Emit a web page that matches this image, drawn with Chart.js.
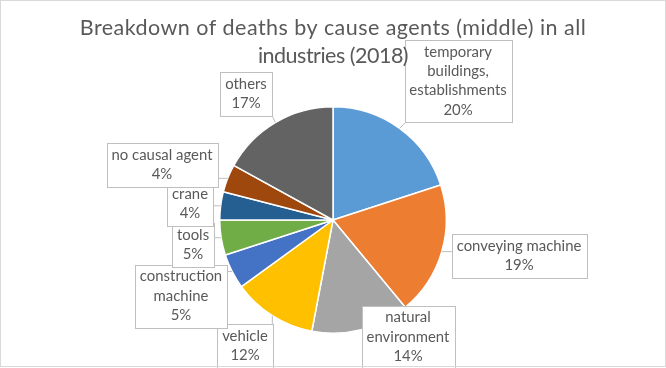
<!DOCTYPE html>
<html>
<head>
<meta charset="utf-8">
<script src="https://cdn.jsdelivr.net/npm/chart.js@4.4.0/dist/chart.umd.min.js"></script>
<style>
  html, body { margin: 0; padding: 0; background: #fff; }
  #wrap { width: 666px; height: 368px; }
</style>
</head>
<body>
<div id="wrap"><canvas id="pie" width="666" height="368"></canvas></div>
<script>
// categories in clockwise order from 12 o'clock, each as label lines
const categories = [
    ['temporary', 'buildings,', 'establishments'],
    ['conveying machine'],
    ['natural', 'environment'],
    ['vehicle'],
    ['construction', 'machine'],
    ['tools'],
    ['crane'],
    ['no causal agent'],
    ['others']
];
const shares = [20, 19, 14, 12, 5, 5, 4, 4, 17];
const sliceColors = ['#5B9BD5', '#ED7D31', '#A5A5A5', '#FFC000', '#4472C4', '#70AD47', '#255E91', '#9E480E', '#636363'];
const titleLines = ['Breakdown of deaths by cause agents (middle) in all', 'industries (2018)'];

// where the callout boxes sit (centre of the text block)
const calloutCentres = [[458, 81], [519, 256], [408, 337], [245, 346], [181, 296], [193, 245], [190, 204], [162, 165], [246, 94]];

const labelFont = '14.9px Lato';
const lineH = 19.3;

const callouts = {
    id: 'callouts',
    afterDatasetsDraw(chart) {
        const ctx = chart.ctx;
        const meta = chart.getDatasetMeta(0);
        ctx.save();
        ctx.font = labelFont;
        meta.data.forEach(function(arc, i) {
            const p = arc.getProps(['x', 'y', 'startAngle', 'endAngle', 'outerRadius'], true);
            const mid = (p.startAngle + p.endAngle) / 2;
            const ax = p.x + Math.cos(mid) * p.outerRadius;
            const ay = p.y + Math.sin(mid) * p.outerRadius;

            const lines = categories[i].concat([shares[i] + '%']);
            let w = 0;
            lines.forEach(function(t) { w = Math.max(w, ctx.measureText(t).width); });
            const bw = Math.round(w + 10);
            const bh = Math.round(lines.length * lineH + 5);
            const cx = calloutCentres[i][0], cy = calloutCentres[i][1];
            const bx = Math.round(cx - bw / 2) + 0.5;
            const by = Math.round(cy - bh / 2) + 0.5;

            // leader line to the slice edge
            const nx = Math.min(Math.max(ax, bx), bx + bw);
            const ny = Math.min(Math.max(ay, by), by + bh);
            if (Math.hypot(nx - ax, ny - ay) > 3) {
                ctx.strokeStyle = '#BFBFBF';
                ctx.lineWidth = 1;
                ctx.beginPath();
                ctx.moveTo(nx, ny);
                ctx.lineTo(ax, ay);
                ctx.stroke();
            }

            ctx.fillStyle = '#ffffff';
            ctx.fillRect(bx, by, bw, bh);
            ctx.strokeStyle = '#BFBFBF';
            ctx.lineWidth = 1;
            ctx.strokeRect(bx, by, bw, bh);

            ctx.fillStyle = '#595959';
            ctx.textAlign = 'center';
            ctx.textBaseline = 'middle';
            const top = cy - (lines.length - 1) * lineH / 2;
            lines.forEach(function(t, k) {
                ctx.fillText(t, cx, top + k * lineH);
            });
        });
        ctx.restore();
    },
    afterDraw(chart) {
        const ctx = chart.ctx;
        ctx.save();
        // title, drawn last like the original where it runs into the callout
        ctx.font = '21.5px Lato';
        ctx.fillStyle = '#595959';
        ctx.textAlign = 'center';
        ctx.textBaseline = 'middle';
        const spacing = ['0.45px', '-0.5px'];
        titleLines.forEach(function(t, k) {
            ctx.letterSpacing = spacing[k];
            ctx.fillText(t, 333, 28 + k * 28);
        });
        ctx.letterSpacing = '0px';

        ctx.strokeStyle = '#D9D9D9';
        ctx.lineWidth = 1;
        ctx.strokeRect(0.5, 0.5, 665, 366);
        ctx.restore();
    }
};

new Chart(document.getElementById('pie').getContext('2d'), {
    type: 'pie',
    data: {
        labels: categories,
        datasets: [{
            data: shares,
            backgroundColor: sliceColors,
            borderColor: '#ffffff',
            borderWidth: 1.5
        }]
    },
    options: {
        responsive: false,
        animation: false,
        layout: {
            padding: { left: 219, right: 219, top: 105, bottom: 33 }
        },
        plugins: {
            legend: { display: false },
            tooltip: { enabled: false },
            title: { display: false }
        }
    },
    plugins: [callouts]
});
</script>
</body>
</html>
